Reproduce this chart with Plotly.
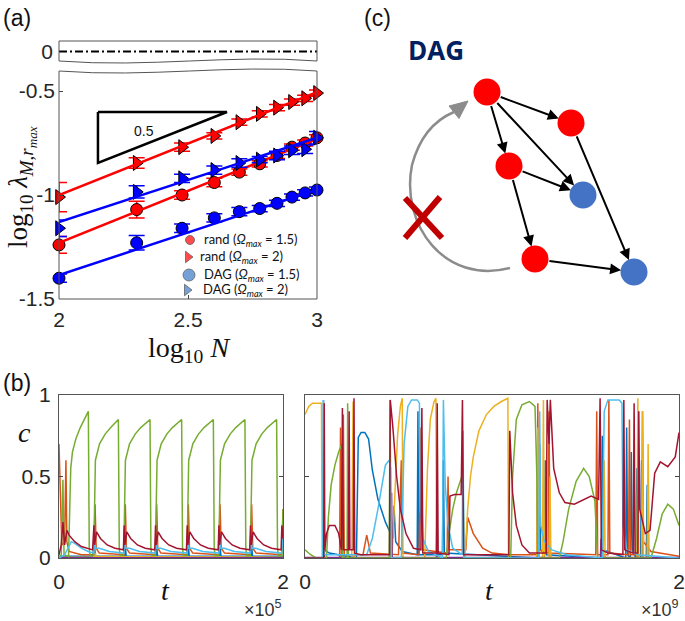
import plotly.graph_objects as go

W, H = 685, 621

# ---------------- panel (a) data ----------------
log10_N = [2.0, 2.301, 2.477, 2.602, 2.699, 2.778, 2.845, 2.903, 2.954, 3.0]
rand_15 = [-1.24, -1.07, -1.00, -0.94, -0.89, -0.85, -0.81, -0.77, -0.75, -0.725]
rand_15_err = [0.04, 0.04, 0.02, 0.02, 0.015, 0.015, 0.015, 0.015, 0.015, 0.015]
rand_2 = [-1.01, -0.846, -0.77, -0.716, -0.65, -0.61, -0.58, -0.553, -0.535, -0.51]
rand_2_err = [0.07, 0.025, 0.02, 0.015, 0.015, 0.015, 0.015, 0.015, 0.015, 0.015]
dag_15 = [-1.40, -1.23, -1.16, -1.11, -1.08, -1.065, -1.04, -1.01, -0.99, -0.976]
dag_15_err = [0.02, 0.035, 0.02, 0.02, 0.02, 0.015, 0.015, 0.015, 0.015, 0.015]
dag_2 = [-1.16, -0.985, -0.92, -0.88, -0.846, -0.83, -0.81, -0.785, -0.78, -0.725]
dag_2_err = [0.04, 0.03, 0.02, 0.02, 0.02, 0.015, 0.02, 0.02, 0.02, 0.03]
fit_x = [2.0, 3.0]
rand_15_fit = [-1.23, -0.73]
rand_2_fit = [-1.0, -0.505]
dag_15_fit = [-1.385, -0.975]
dag_2_fit = [-1.13, -0.725]
zero_ref = [0.0, 0.0]
slope_tri_x = [2.151, 2.651, 2.151, 2.151]
slope_tri_y = [-0.601, -0.601, -0.846, -0.601]
a_xticks = [2, 2.5, 3]
a_xticktext = ["2", "2.5", "3"]
a_yticks = [-1.5, -1.0, -0.5]
a_yticktext = ["-1.5", "-1", "-0.5"]
legend_labels = [
    "rand (<i>Ω<sub>max</sub></i> = 1.5)",
    "rand (<i>Ω<sub>max</sub></i> = 2)",
    "DAG (<i>Ω<sub>max</sub></i> = 1.5)",
    "DAG (<i>Ω<sub>max</sub></i> = 2)",
]

# ---------------- panel (b) left data (t in units of 1e5) ----------------
L_blue = [(0.0, 0.01), (0.3, 0.01), (0.315, 0.09), (0.325, 0.01), (0.585, 0.01), (0.59, 0.09), (0.6, 0.01),
          (0.865, 0.01), (0.87, 0.09), (0.88, 0.01), (1.148, 0.01), (1.153, 0.09), (1.163, 0.01),
          (1.431, 0.01), (1.436, 0.09), (1.446, 0.01), (1.713, 0.01), (1.718, 0.09), (1.728, 0.01), (2.0, 0.01)]
L_orange = [(0.0, 0.7), (0.012, 0.35), (0.025, 0.08), (0.05, 0.1), (0.062, 0.6), (0.07, 0.1), (0.09, 0.04), (0.2, 0.02),
            (0.31, 0.02), (0.322, 0.33), (0.332, 0.06), (0.36, 0.03),
            (0.58, 0.02), (0.592, 0.33), (0.602, 0.06), (0.63, 0.03),
            (0.86, 0.02), (0.872, 0.33), (0.882, 0.06), (0.91, 0.03),
            (1.143, 0.02), (1.155, 0.33), (1.165, 0.06), (1.195, 0.03),
            (1.426, 0.02), (1.438, 0.33), (1.448, 0.06), (1.478, 0.03),
            (1.708, 0.02), (1.72, 0.33), (1.73, 0.06), (1.76, 0.03),
            (1.988, 0.02), (2.0, 0.3)]
L_yellow = [(0.0, 0.005), (0.32, 0.005), (0.325, 0.03), (0.33, 0.01), (0.6, 0.008), (0.88, 0.008),
            (1.16, 0.008), (1.44, 0.008), (1.72, 0.008), (2.0, 0.005)]
L_purple = [(0.0, 0.002), (2.0, 0.002)]
L_green = [(0.0, 0.0), (0.02, 0.02), (0.035, 0.48), (0.045, 0.02), (0.085, 0.01), (0.095, 0.3), (0.105, 0.55),
           (0.12, 0.65), (0.15, 0.73), (0.19, 0.8), (0.23, 0.86), (0.262, 0.9),
           (0.270, 0.06), (0.277, 0.015), (0.31, 0.015), (0.318, 0.4), (0.325, 0.6), (0.362, 0.7), (0.412, 0.76),
           (0.462, 0.8), (0.505, 0.83), (0.530, 0.85),
           (0.538, 0.06), (0.545, 0.015), (0.578, 0.015), (0.586, 0.4), (0.593, 0.6), (0.630, 0.7), (0.680, 0.76),
           (0.730, 0.8), (0.780, 0.83), (0.8125, 0.85),
           (0.8205, 0.06), (0.8275, 0.015), (0.8605, 0.015), (0.8685, 0.4), (0.8755, 0.6), (0.9125, 0.7),
           (0.9625, 0.76), (1.0125, 0.8), (1.0625, 0.83), (1.095, 0.85),
           (1.103, 0.06), (1.110, 0.015), (1.143, 0.015), (1.151, 0.4), (1.158, 0.6), (1.195, 0.7), (1.245, 0.76),
           (1.295, 0.8), (1.345, 0.83), (1.378, 0.85),
           (1.386, 0.06), (1.393, 0.015), (1.426, 0.015), (1.434, 0.4), (1.441, 0.6), (1.478, 0.7), (1.528, 0.76),
           (1.578, 0.8), (1.628, 0.83), (1.66, 0.85),
           (1.668, 0.06), (1.675, 0.015), (1.708, 0.015), (1.716, 0.4), (1.723, 0.6), (1.760, 0.7), (1.810, 0.76),
           (1.860, 0.8), (1.910, 0.83), (1.943, 0.85),
           (1.951, 0.06), (1.958, 0.015), (1.991, 0.015), (2.0, 0.3)]
L_cyan = [(0.0, 0.0), (0.05, 0.02), (0.08, 0.06), (0.11, 0.1), (0.14, 0.09), (0.2, 0.06), (0.26, 0.04), (0.31, 0.03),
          (0.318, 0.12), (0.326, 0.06), (0.36, 0.06), (0.45, 0.04), (0.58, 0.03),
          (0.588, 0.12), (0.596, 0.06), (0.63, 0.06), (0.72, 0.04), (0.86, 0.03),
          (0.868, 0.12), (0.876, 0.06), (0.91, 0.06), (1.0, 0.04), (1.143, 0.03),
          (1.151, 0.12), (1.159, 0.06), (1.193, 0.06), (1.283, 0.04), (1.426, 0.03),
          (1.434, 0.12), (1.442, 0.06), (1.476, 0.06), (1.566, 0.04), (1.708, 0.03),
          (1.716, 0.12), (1.724, 0.06), (1.758, 0.06), (1.848, 0.04), (1.988, 0.03), (1.996, 0.12), (2.0, 0.1)]
L_darkred = [(0.0, 0.02), (0.02, 0.08), (0.035, 0.22), (0.05, 0.08), (0.07, 0.17), (0.09, 0.14), (0.14, 0.1),
             (0.2, 0.07), (0.3, 0.05),
             (0.312, 0.2), (0.318, 0.08), (0.335, 0.16), (0.37, 0.12), (0.43, 0.08), (0.5, 0.06), (0.575, 0.05),
             (0.582, 0.2), (0.588, 0.08), (0.605, 0.16), (0.64, 0.12), (0.70, 0.08), (0.77, 0.06), (0.855, 0.05),
             (0.862, 0.2), (0.868, 0.08), (0.885, 0.16), (0.92, 0.12), (0.98, 0.08), (1.05, 0.06), (1.138, 0.05),
             (1.145, 0.2), (1.151, 0.08), (1.168, 0.16), (1.203, 0.12), (1.263, 0.08), (1.333, 0.06), (1.421, 0.05),
             (1.428, 0.2), (1.434, 0.08), (1.451, 0.16), (1.486, 0.12), (1.546, 0.08), (1.616, 0.06), (1.703, 0.05),
             (1.71, 0.2), (1.716, 0.08), (1.733, 0.16), (1.768, 0.12), (1.828, 0.08), (1.898, 0.06), (1.983, 0.05),
             (1.99, 0.2), (2.0, 0.12)]

# ---------------- panel (b) right data (t in units of 1e9) ----------------
R_blue = [(0.0, 0.0), (0.095, 0.0), (0.099, 0.97), (0.103, 0.05), (0.13, 0.03), (0.275, 0.0), (0.285, 0.74),
          (0.3, 0.77), (0.32, 0.77), (0.34, 0.73), (0.36, 0.54), (0.39, 0.36), (0.43, 0.22), (0.47, 0.12),
          (0.476, 0.32), (0.485, 0.1), (0.52, 0.04), (0.6, 0.02), (0.604, 0.9), (0.608, 0.02), (0.735, 0.02),
          (0.74, 0.6), (0.745, 0.03), (1.25, 0.0), (1.255, 0.7), (1.26, 0.05), (1.28, 0.03), (1.285, 0.6),
          (1.29, 0.02), (1.585, 0.0), (1.59, 0.75), (1.595, 0.05), (1.715, 0.0), (1.72, 0.8), (1.725, 0.02),
          (1.74, 0.0), (1.745, 0.65), (1.75, 0.05), (1.77, 0.0), (1.775, 0.55), (1.78, 0.0), (1.795, 0.0),
          (1.8, 0.6), (1.805, 0.0), (1.825, 0.0), (1.83, 0.45), (1.835, 0.0), (2.0, 0.0)]
R_orange = [(0.0, 0.0), (0.185, 0.0), (0.19, 0.8), (0.195, 0.0), (0.2, 0.0), (0.205, 0.88), (0.21, 0.02),
            (0.31, 0.02), (0.33, 0.14), (0.35, 0.03), (0.5, 0.02), (0.515, 0.6), (0.52, 0.03), (0.61, 0.02),
            (0.62, 0.8), (0.63, 0.05), (0.76, 0.03), (0.765, 0.5), (0.77, 0.05), (0.86, 0.05), (0.87, 0.25),
            (0.9, 0.15), (0.95, 0.06), (1.0, 0.03), (1.1, 0.02), (1.24, 0.02), (1.245, 0.95), (1.25, 0.05),
            (1.3, 0.03), (1.305, 0.9), (1.31, 0.03), (1.555, 0.02), (1.56, 0.9), (1.565, 0.02), (1.62, 0.02),
            (1.625, 0.97), (1.63, 0.03), (1.73, 0.02), (1.735, 0.85), (1.74, 0.02), (1.8, 0.02), (1.805, 0.9),
            (1.81, 0.1), (1.85, 0.04), (2.0, 0.01)]
R_yellow = [(0.0, 0.88), (0.02, 0.93), (0.04, 0.95), (0.088, 0.95), (0.092, 0.0), (0.25, 0.0), (0.257, 0.96),
            (0.263, 0.0), (0.465, 0.0), (0.48, 0.4), (0.495, 0.75), (0.51, 0.93), (0.52, 0.98), (0.524, 0.0),
            (0.64, 0.0), (0.655, 0.55), (0.67, 0.85), (0.69, 0.96), (0.70, 0.98), (0.704, 0.0), (0.855, 0.0),
            (0.87, 0.3), (0.885, 0.5), (0.90, 0.62), (0.93, 0.78), (0.97, 0.88), (1.01, 0.93), (1.05, 0.96),
            (1.085, 0.98), (1.088, 0.0), (1.24, 0.0), (1.245, 0.8), (1.25, 0.0), (1.27, 0.0), (1.275, 0.97),
            (1.28, 0.0), (1.305, 0.0), (1.31, 0.5), (1.315, 0.0), (1.595, 0.0), (1.60, 0.6), (1.605, 0.0),
            (1.775, 0.0), (1.78, 0.98), (1.785, 0.0), (1.80, 0.0), (1.805, 0.9), (1.81, 0.0), (1.83, 0.0),
            (1.835, 0.7), (1.84, 0.0), (2.0, 0.0)]
R_purple = [(0.0, 0.003), (0.099, 0.003), (0.101, 0.55), (0.104, 0.003), (0.46, 0.003), (0.463, 0.4),
            (0.466, 0.003), (0.703, 0.003), (0.706, 0.35), (0.709, 0.003), (1.58, 0.003), (1.583, 0.12),
            (1.586, 0.003), (2.0, 0.003)]
R_green = [(0.0, 0.05), (0.03, 0.02), (0.06, 0.0), (0.115, 0.0), (0.125, 0.25), (0.14, 0.45), (0.16, 0.57),
           (0.18, 0.65), (0.197, 0.7), (0.2, 0.0), (0.225, 0.0), (0.228, 0.95), (0.232, 0.0), (0.45, 0.0),
           (0.455, 0.97), (0.46, 0.0), (0.755, 0.0), (0.77, 0.15), (0.79, 0.3), (0.81, 0.4), (0.83, 0.47),
           (0.845, 0.52), (0.85, 0.0), (1.1, 0.0), (1.11, 0.5), (1.13, 0.85), (1.16, 0.94), (1.2, 0.96),
           (1.23, 0.93), (1.24, 0.5), (1.245, 0.0), (1.36, 0.0), (1.38, 0.1), (1.41, 0.3), (1.45, 0.47),
           (1.49, 0.55), (1.52, 0.5), (1.55, 0.35), (1.565, 0.0), (1.85, 0.0), (1.88, 0.12), (1.91, 0.27),
           (1.94, 0.33), (1.97, 0.3), (2.0, 0.2)]
R_cyan = [(0.0, 0.0), (0.095, 0.0), (0.098, 0.97), (0.102, 0.02), (0.33, 0.02), (0.36, 0.12), (0.39, 0.3),
          (0.41, 0.45), (0.43, 0.57), (0.45, 0.6), (0.458, 0.55), (0.462, 0.0), (0.515, 0.0), (0.53, 0.7),
          (0.55, 0.93), (0.57, 0.97), (0.6, 0.97), (0.612, 0.95), (0.616, 0.3), (0.63, 0.12), (0.66, 0.04),
          (0.735, 0.0), (0.74, 0.97), (0.75, 0.45), (0.765, 0.2), (0.79, 0.06), (0.84, 0.02), (0.845, 0.78),
          (0.85, 0.0), (1.25, 0.0), (1.255, 0.9), (1.26, 0.2), (1.28, 0.1), (1.32, 0.05), (1.4, 0.02),
          (1.59, 0.0), (1.60, 0.9), (1.62, 0.97), (1.68, 0.97), (1.695, 0.95), (1.70, 0.2), (1.72, 0.05),
          (1.78, 0.02), (2.0, 0.0)]
R_darkred = [(0.0, 0.0), (0.1, 0.0), (0.103, 0.95), (0.106, 0.05), (0.115, 0.15), (0.13, 0.2), (0.16, 0.2),
             (0.18, 0.15), (0.195, 0.05), (0.2, 0.92), (0.205, 0.05), (0.232, 0.05), (0.236, 0.9), (0.24, 0.05),
             (0.258, 0.05), (0.262, 0.98), (0.266, 0.03), (0.3, 0.02), (0.452, 0.02), (0.456, 0.97), (0.47, 0.8),
             (0.49, 0.5), (0.51, 0.3), (0.54, 0.15), (0.58, 0.06), (0.62, 0.05), (0.625, 0.92), (0.63, 0.03),
             (0.703, 0.03), (0.707, 0.95), (0.712, 0.03), (0.77, 0.02), (0.775, 0.38), (0.80, 0.39),
             (0.835, 0.39), (0.842, 0.97), (0.848, 0.02), (1.09, 0.02), (1.095, 0.78), (1.11, 0.4), (1.13, 0.2),
             (1.16, 0.08), (1.2, 0.03), (1.29, 0.03), (1.295, 0.97), (1.305, 0.7), (1.312, 0.97), (1.33, 0.55),
             (1.36, 0.4), (1.39, 0.34), (1.44, 0.33), (1.49, 0.36), (1.53, 0.38), (1.57, 0.36), (1.578, 0.98),
             (1.585, 0.05), (1.62, 0.03), (1.7, 0.02), (1.705, 0.97), (1.71, 0.05), (1.75, 0.03), (1.755, 0.03),
             (1.76, 0.95), (1.765, 0.03), (1.78, 0.03), (1.785, 0.9), (1.79, 0.3), (1.82, 0.15), (1.845, 0.17),
             (1.87, 0.52), (1.9, 0.59), (1.94, 0.56), (1.98, 0.62), (2.0, 0.77)]
b_yticks = [0, 0.5, 1]
b_yticktext = ["0", "0.5", "1"]
b_xticks = [0, 2]
b_xticktext = ["0", "2"]

# ---------------- panel (c) diagram ----------------
node_x = [487, 571, 509, 535, 583, 634]
node_y = [92, 123, 166, 259, 195, 272]
node_col = ["#FF0000", "#FF0000", "#FF0000", "#FF0000", "#4472C4", "#4472C4"]
edges = [(0, 1), (0, 2), (0, 4), (2, 4), (2, 3), (3, 5), (1, 5)]

# legend key layout (pixel positions of the legend block)
legend_key_x = [190, 188, 189, 187]
legend_key_y = [240, 257, 275, 290]
legend_text_x = [202, 198, 202, 201]
legend_sym = ["circle", "triangle-right", "circle", "triangle-right"]
legend_col = ["#FF0000", "#FF0000", "#3A7BC8", "#3A7BC8"]
legend_size = [9, 10, 12, 10]

MATLAB = {"blue": "#0072BD", "orange": "#D95319", "yellow": "#EDB120", "purple": "#7E2F8E",
          "green": "#77AC30", "cyan": "#4DBEEE", "darkred": "#A2142F"}


def fx(px):
    return px / W


def fy(py):
    return 1 - py / H


fig = go.Figure()

# ---- panel (a) main
series_a = [
    (rand_15, rand_15_err, rand_15_fit, "circle", "#FF0000", 12),
    (rand_2, rand_2_err, rand_2_fit, "triangle-right", "#FF0000", 13),
    (dag_15, dag_15_err, dag_15_fit, "circle", "#0000FF", 12),
    (dag_2, dag_2_err, dag_2_fit, "triangle-right", "#0000FF", 13),
]
for yv, ev, fv, sym, col, sz in series_a:
    fig.add_trace(go.Scatter(
        x=log10_N, y=yv, mode="markers", xaxis="x", yaxis="y", cliponaxis=False,
        marker=dict(symbol=sym, size=sz, color=col, line=dict(color="black", width=1)),
        error_y=dict(type="data", array=ev, color=col, thickness=1.5, width=8)))
    fig.add_trace(go.Scatter(x=fit_x, y=fv, mode="lines", xaxis="x", yaxis="y",
                             cliponaxis=False, line=dict(color=col, width=2.5)))

fig.add_trace(go.Scatter(x=slope_tri_x, y=slope_tri_y, mode="lines", xaxis="x", yaxis="y",
                         line=dict(color="black", width=2.5)))

# ---- panel (a) top strip
fig.add_trace(go.Scatter(x=fit_x, y=zero_ref, mode="lines", xaxis="x2", yaxis="y2",
                         line=dict(color="black", width=2.2, dash="8px,3px,2px,3px")))

# ---- panel (b)
order = ["blue", "orange", "yellow", "purple", "green", "cyan", "darkred"]
left = {"blue": L_blue, "orange": L_orange, "yellow": L_yellow, "purple": L_purple,
        "green": L_green, "cyan": L_cyan, "darkred": L_darkred}
right = {"blue": R_blue, "orange": R_orange, "yellow": R_yellow, "purple": R_purple,
         "green": R_green, "cyan": R_cyan, "darkred": R_darkred}
for key in order:
    t, c = zip(*left[key])
    fig.add_trace(go.Scatter(x=list(t), y=list(c), mode="lines", xaxis="x3", yaxis="y3",
                             line=dict(color=MATLAB[key], width=1.5)))
for key in order:
    t, c = zip(*right[key])
    fig.add_trace(go.Scatter(x=list(t), y=list(c), mode="lines", xaxis="x4", yaxis="y4",
                             line=dict(color=MATLAB[key], width=1.5)))

# ---- pixel-space overlay: diagram nodes and legend keys
fig.add_trace(go.Scatter(x=node_x, y=node_y, mode="markers", xaxis="x5", yaxis="y5",
                         marker=dict(size=27, color=node_col, line=dict(width=0))))
fig.add_trace(go.Scatter(x=legend_key_x, y=legend_key_y, mode="markers", xaxis="x5", yaxis="y5",
                         marker=dict(symbol=legend_sym, size=legend_size, color=legend_col,
                                     line=dict(color="#222", width=0.8))))

tick_font = dict(family="Liberation Sans", size=21, color="#262626")
common = dict(showgrid=False, zeroline=False, ticks="inside", ticklen=4, tickcolor="#444",
              tickfont=tick_font, automargin=False)
box = dict(showline=True, mirror="ticks", linecolor="#555", linewidth=1)

ya_top = -0.5 + (91 - 66) / 208

fig.update_layout(
    template="none",
    width=W, height=H, margin=dict(l=0, r=0, t=0, b=0, pad=0, autoexpand=False),
    paper_bgcolor="white", plot_bgcolor="rgba(0,0,0,0)",
    showlegend=False,
    xaxis=dict(domain=[fx(59), fx(317)], range=[2, 3], anchor="y", tickvals=a_xticks, ticktext=a_xticktext,
               ticklabelstandoff=6, **common),
    yaxis=dict(domain=[fy(299), fy(66)], range=[-1.5, ya_top], anchor="x", tickvals=a_yticks,
               ticktext=a_yticktext, ticklabelstandoff=3, **common),
    xaxis2=dict(domain=[fx(59), fx(317)], range=[2, 3], anchor="y2", showticklabels=False, showgrid=False,
                zeroline=False, ticks="", side="top", automargin=False),
    yaxis2=dict(domain=[fy(62), fy(41)], range=[-1, 1], anchor="x2", tickvals=[0], ticktext=["0"],
                showgrid=False, zeroline=False, ticks="", tickfont=tick_font, ticklabelstandoff=5,
                automargin=False),
    xaxis3=dict(domain=[fx(59), fx(283)], range=[0, 2], anchor="y3", tickvals=b_xticks, ticktext=b_xticktext,
                ticklabelstandoff=5, **common, **box),
    yaxis3=dict(domain=[fy(558), fy(395)], range=[0, 1], anchor="x3", tickvals=b_yticks, ticktext=b_yticktext,
                ticklabelstandoff=3, **common, **box),
    xaxis4=dict(domain=[fx(305), fx(679)], range=[0, 2], anchor="y4", tickvals=b_xticks, ticktext=b_xticktext,
                ticklabelstandoff=5, **common, **box),
    yaxis4=dict(domain=[fy(558), fy(395)], range=[0, 1], anchor="x4", tickvals=b_yticks, showticklabels=False,
                **common, **box),
    xaxis5=dict(domain=[0, 1], range=[0, W], anchor="y5", visible=False, fixedrange=True, automargin=False),
    yaxis5=dict(domain=[0, 1], range=[H, 0], anchor="x5", visible=False, fixedrange=True, automargin=False),
)

frame = dict(type="path", xref="x5", yref="y5", line=dict(color="#555", width=1), layer="above")
shapes = [
    dict(frame, path="M59,41 L317,41 L317,61 C230,54 150,68 59,61 Z"),
    dict(frame, path="M59,71 C150,78 230,64 317,71 L317,299 L59,299 Z"),
    # gray feedback arc and its head
    dict(type="path", xref="x5", yref="y5", layer="above", line=dict(color="#8C8C8C", width=2.5),
         path="M510,268 C445,285 400,225 412,165 C420,135 435,120 454,112"),
    dict(type="path", xref="x5", yref="y5", layer="above", line=dict(color="#8C8C8C", width=1),
         fillcolor="#8C8C8C", path="M468,101 L449,106 L459,118.5 Z"),
    # red cross
    dict(type="line", xref="x5", yref="y5", x0=405, y0=198, x1=442, y1=238, line=dict(color="#C00000", width=6)),
    dict(type="line", xref="x5", yref="y5", x0=440, y0=197, x1=405, y1=238, line=dict(color="#C00000", width=6)),
]

annotations = []
for a, b in edges:
    annotations.append(dict(xref="x5", yref="y5", axref="x5", ayref="y5", x=node_x[b], y=node_y[b],
                            ax=node_x[a], ay=node_y[a], text="", showarrow=True, arrowhead=2, arrowsize=1.1,
                            arrowwidth=2, arrowcolor="black", standoff=13, startstandoff=13))


def txt(px, py, s, size, family="Liberation Sans", color="#111", xanchor="center", angle=0, bold=False):
    if bold:
        s = "<b>" + s + "</b>"
    return dict(xref="paper", yref="paper", x=fx(px), y=fy(py), text=s, showarrow=False, xanchor=xanchor,
                yanchor="middle", textangle=angle, font=dict(family=family, size=size, color=color))


serif = "Liberation Serif"
annotations += [
    txt(17, 18, "(a)", 23),
    txt(17, 383, "(b)", 23),
    txt(377, 18, "(c)", 23),
    txt(436, 50, "DAG", 26, family="Open Sans", color="#002060", bold=True),
    txt(144, 131, "0.5", 14),
    txt(189, 350, "log<sub>10</sub> <i>N</i>", 28, family=serif),
    txt(21, 187, "log<sub>10</sub> <i>λ</i><sub><i>M</i>,<i>r<sub>max</sub></i></sub>", 27, family=serif, angle=-90),
    txt(25, 432, "<i>c</i>", 28, family=serif),
    txt(165, 590, "<i>t</i>", 28, family=serif),
    txt(489, 590, "<i>t</i>", 28, family=serif),
    txt(284, 608, "×10<sup>5</sup>", 18, xanchor="right", color="#333"),
    txt(681, 608, "×10<sup>9</sup>", 18, xanchor="right", color="#333"),
]
for lab, lx, ly in zip(legend_labels, legend_text_x, legend_key_y):
    annotations.append(txt(lx, ly, lab, 13, family="Lato", xanchor="left"))

fig.update_layout(shapes=shapes, annotations=annotations)
fig.write_html("out.html", config={"displayModeBar": False},
               post_script="document.body.style.margin='0px';")
